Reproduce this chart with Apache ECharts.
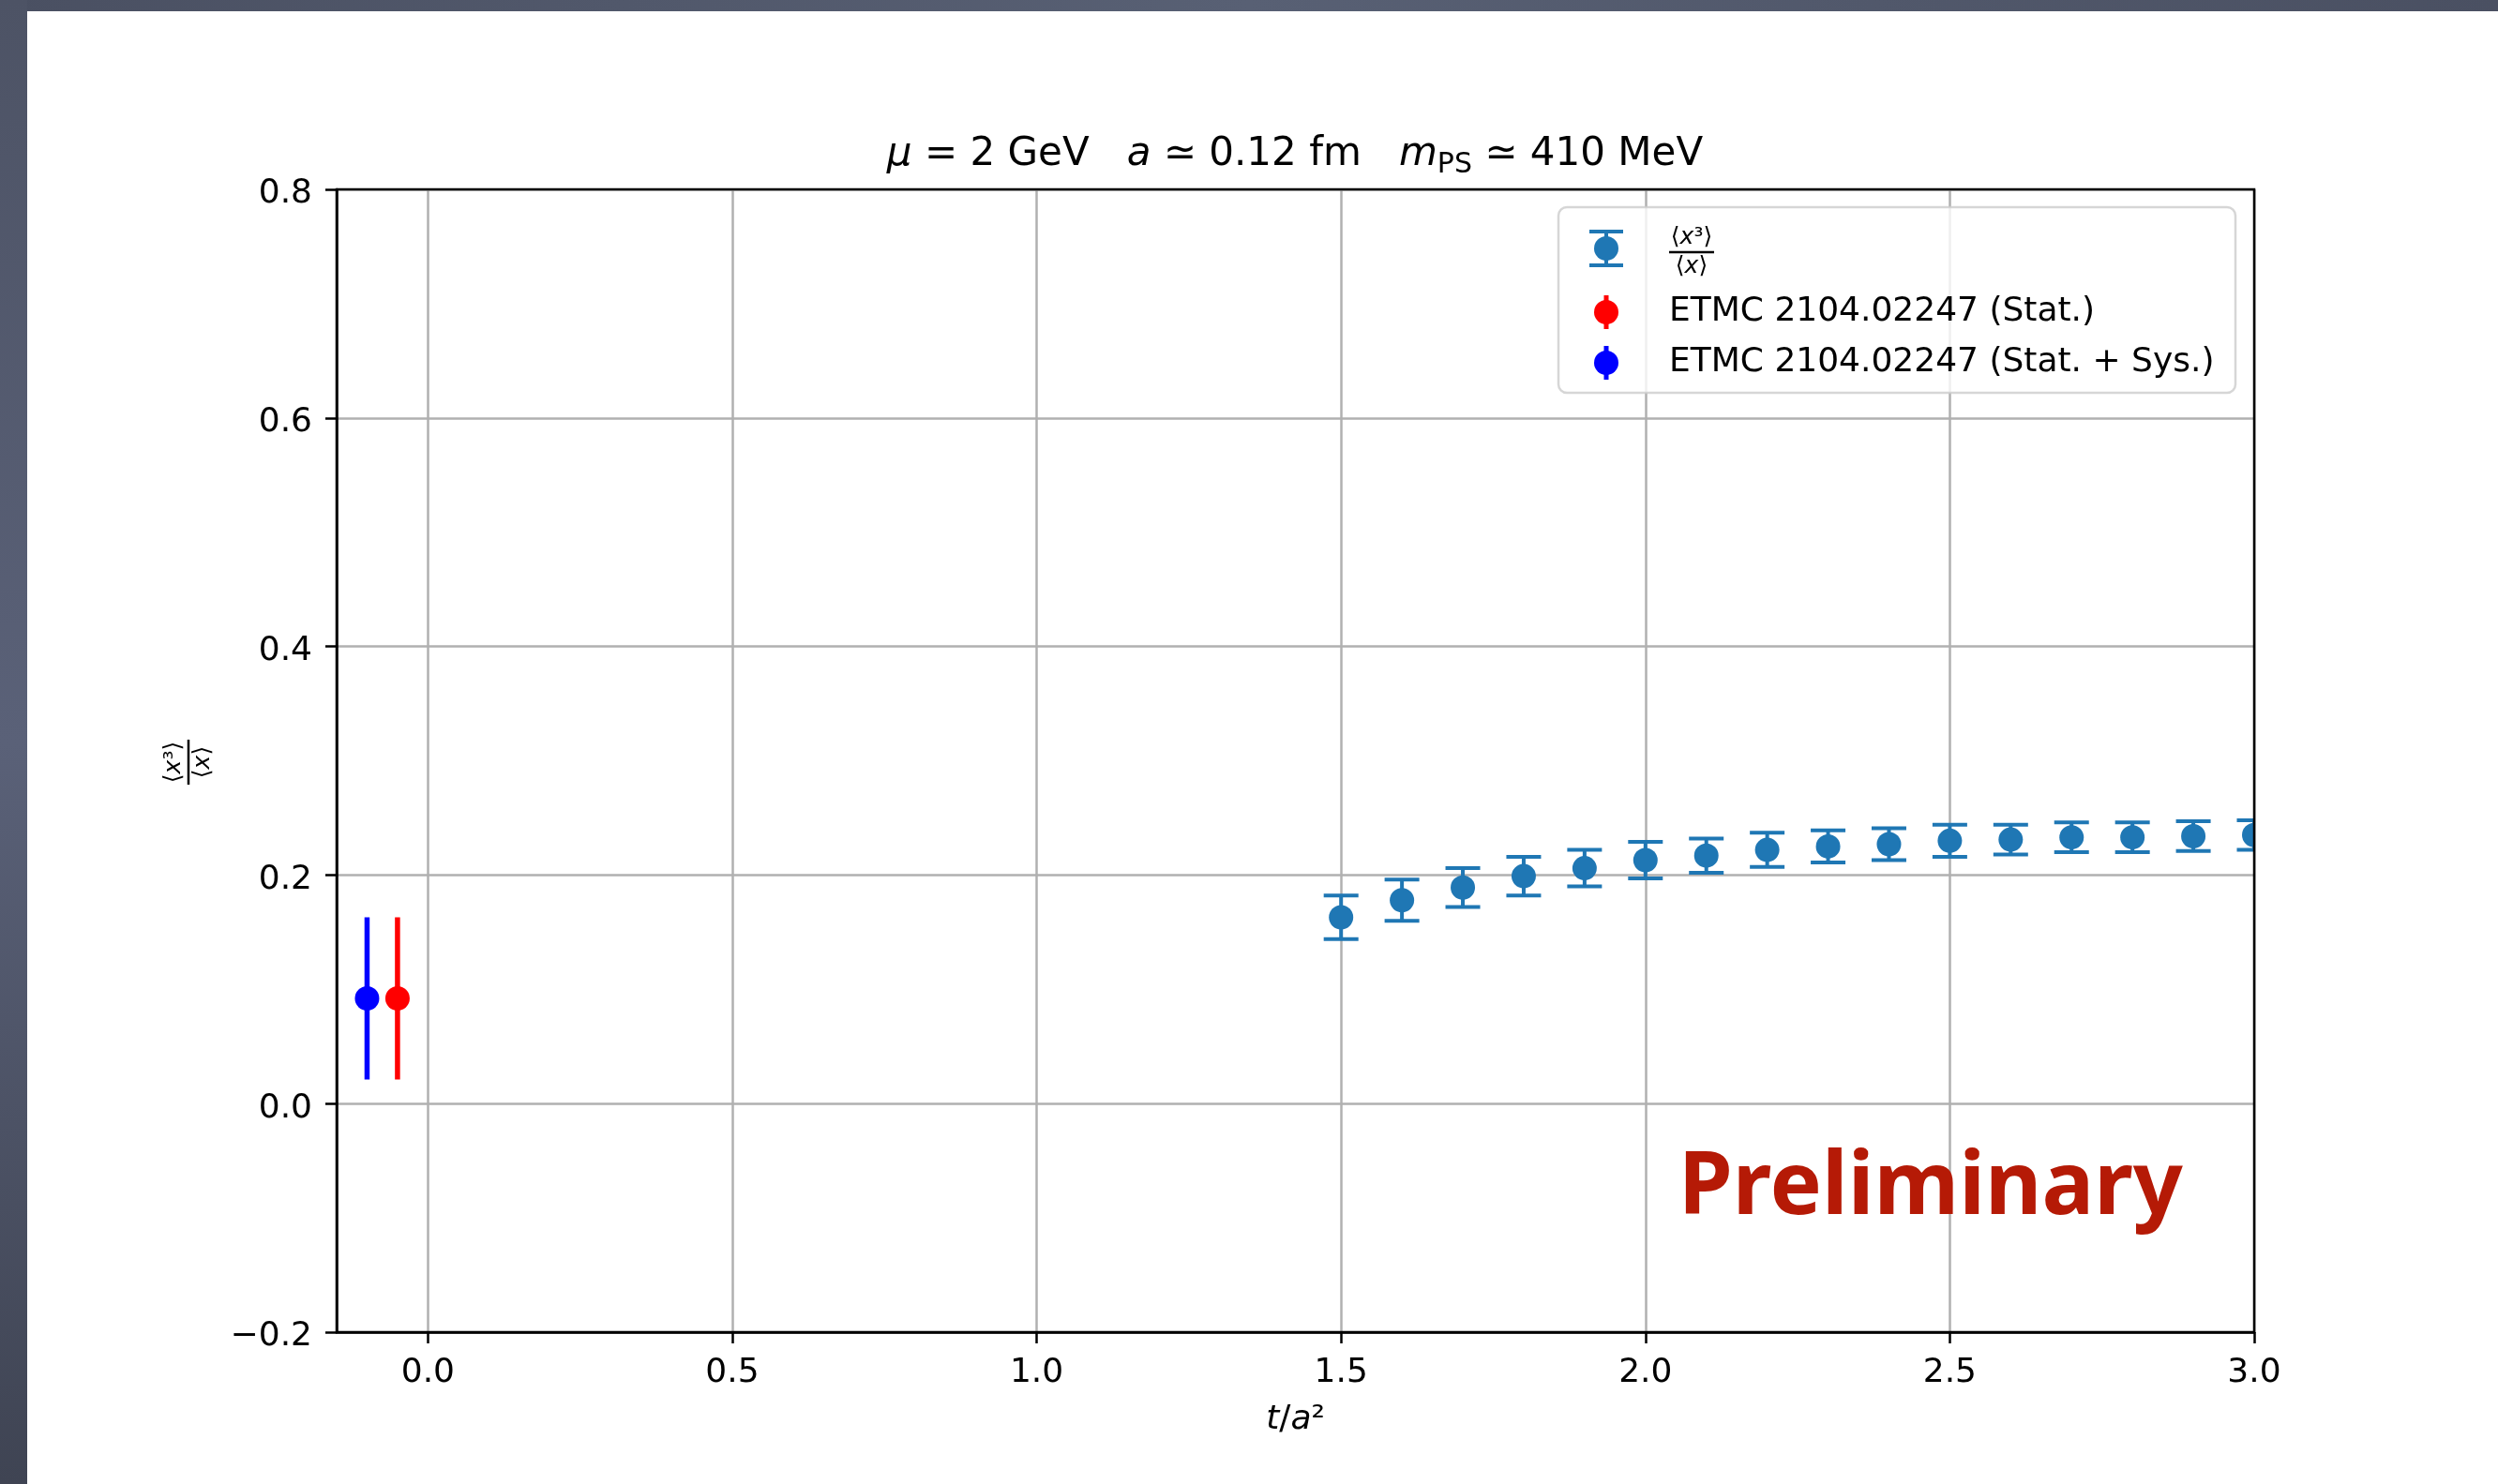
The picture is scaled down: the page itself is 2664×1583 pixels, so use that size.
<!DOCTYPE html>
<html>
<head>
<meta charset="utf-8">
<script src="https://cdn.jsdelivr.net/npm/echarts@6/dist/echarts.min.js"></script>
<style>html,body{margin:0;padding:0;background:#fff;}#c{width:2664px;height:1583px;}</style>
</head>
<body>
<div id="c"></div>
<script>
// ---- data ----
const tValues = [1.5, 1.6, 1.7, 1.8, 1.9, 2.0, 2.1, 2.2, 2.3, 2.4, 2.5, 2.6, 2.7, 2.8, 2.9, 3.0];
const ratioValues = [0.163, 0.178, 0.189, 0.199, 0.206, 0.213, 0.217, 0.222, 0.225, 0.227, 0.230, 0.231, 0.233, 0.233, 0.234, 0.235];
const ratioErrors = [0.019, 0.018, 0.017, 0.017, 0.016, 0.016, 0.015, 0.015, 0.014, 0.014, 0.014, 0.013, 0.013, 0.013, 0.013, 0.013];
const etmcStatPoint = [-0.05, 0.092, 0.071];
const etmcSysPoint = [-0.10, 0.092, 0.071];
const xTickValues = [0, 0.5, 1.0, 1.5, 2.0, 2.5, 3.0];
const legendLabels = ['ETMC 2104.02247 (Stat.)', 'ETMC 2104.02247 (Stat. + Sys.)'];
const titleText = '{i|μ}{n| = 2 GeV   }{i|a}{n| ≃ 0.12 fm   }{i|m}{s|PS}{n| ≃ 410 MeV}';
const watermark = 'Preliminary';

const FONT = 'DejaVu Sans';
const C_DATA = '#1f77b4', C_STAT = '#ff0000', C_SYS = '#0000ff';

function errRender(o) {
  return function (params, api) {
    const x = api.value(0), y = api.value(1), e = api.value(2);
    const p = api.coord([x, y]);
    const t = api.coord([x, y + e]);
    const b = api.coord([x, y - e]);
    const ch = [{type: 'line', shape: {x1: p[0], y1: t[1], x2: p[0], y2: b[1]}, style: {stroke: o.color, lineWidth: o.lw}}];
    if (o.cap) {
      ch.push({type: 'line', shape: {x1: p[0] - o.cap / 2, y1: t[1], x2: p[0] + o.cap / 2, y2: t[1]}, style: {stroke: o.color, lineWidth: o.capLw}});
      ch.push({type: 'line', shape: {x1: p[0] - o.cap / 2, y1: b[1], x2: p[0] + o.cap / 2, y2: b[1]}, style: {stroke: o.color, lineWidth: o.capLw}});
    }
    ch.push({type: 'circle', shape: {cx: p[0], cy: p[1], r: o.r}, style: {fill: o.color}});
    return {type: 'group', children: ch};
  };
}

function fraction(x, y, rot, z) {
  const rich = {
    r: {fontFamily: FONT, fontSize: 25, fill: '#000'},
    i: {fontFamily: FONT, fontSize: 25, fontStyle: 'italic', fill: '#000'}
  };
  return {
    type: 'group', x: x, y: y, rotation: rot, z: z,
    children: [
      {type: 'text', z: z, style: {text: '{r|⟨}{i|x}{r|³⟩}', x: 0, y: -16, align: 'center', verticalAlign: 'middle', textAlign: 'center', textVerticalAlign: 'middle', rich: rich}},
      {type: 'line', z: z, shape: {x1: -24, y1: 0, x2: 24, y2: 0}, style: {stroke: '#000', lineWidth: 2.5}},
      {type: 'text', z: z, style: {text: '{r|⟨}{i|x}{r|⟩}', x: 0, y: 15, align: 'center', verticalAlign: 'middle', textAlign: 'center', textVerticalAlign: 'middle', rich: rich}}
    ]
  };
}

const chart = echarts.init(document.getElementById('c'));

const legendX = 1662, legendY = 221, legendW = 722, legendH = 198;
const rowY = [265, 333, 387];
const iconX = 1713, textX = 1780;

const option = {
  backgroundColor: '#ffffff',
  animation: false,
  grid: {left: 359, right: 260, top: 202, bottom: 162, containLabel: false, outerBoundsMode: 'none', show: false},
  xAxis: {
    type: 'value', min: -0.15, max: 3.0,
    axisLine: {show: true, onZero: false, lineStyle: {color: '#000', width: 2.5}},
    axisTick: {show: true, customValues: xTickValues, length: 12, inside: false, lineStyle: {color: '#000', width: 2.5}},
    axisLabel: {customValues: xTickValues, formatter: v => v.toFixed(1), fontSize: 36, fontFamily: FONT, color: '#000', margin: 26},
    splitLine: {show: true, lineStyle: {color: '#b0b0b0', width: 2.5}},
    name: '{i|t}{n|/}{i|a}{n|²}', nameLocation: 'middle', nameGap: 76,
    nameTextStyle: {fontSize: 36, fontFamily: FONT, color: '#000',
      rich: {i: {fontSize: 36, fontFamily: FONT, fontStyle: 'italic', color: '#000'}, n: {fontSize: 36, fontFamily: FONT, color: '#000'}}}
  },
  yAxis: {
    type: 'value', min: -0.2, max: 0.8, interval: 0.2,
    axisLine: {show: true, onZero: false, lineStyle: {color: '#000', width: 2.5}},
    axisTick: {show: true, length: 12, inside: false, lineStyle: {color: '#000', width: 2.5}},
    axisLabel: {showMinLabel: true, showMaxLabel: true,
      formatter: v => '{v|' + (Math.abs(v) < 1e-9 ? '0.0' : (v < 0 ? '−' : '') + Math.abs(v).toFixed(1)) + '}',
      rich: {v: {fontSize: 36, fontFamily: FONT, color: '#000', padding: [10, 0, 0, 0]}},
      fontSize: 36, fontFamily: FONT, color: '#000', margin: 26},
    splitLine: {show: true, lineStyle: {color: '#b0b0b0', width: 2.5}}
  },
  series: [
    {
      type: 'custom', name: '<x3>/<x>', clip: true, z: 3,
      dimensions: ['t', 'v', 'err'], encode: {x: 0, y: 1},
      data: tValues.map((t, i) => [t, ratioValues[i], ratioErrors[i]]),
      renderItem: errRender({color: C_DATA, lw: 4, cap: 37, capLw: 4, r: 13})
    },
    {
      type: 'custom', name: legendLabels[0], clip: true, z: 3,
      dimensions: ['t', 'v', 'err'], encode: {x: 0, y: 1},
      data: [etmcStatPoint],
      renderItem: errRender({color: C_STAT, lw: 5.5, cap: 0, r: 13})
    },
    {
      type: 'custom', name: legendLabels[1], clip: true, z: 3,
      dimensions: ['t', 'v', 'err'], encode: {x: 0, y: 1},
      data: [etmcSysPoint],
      renderItem: errRender({color: C_SYS, lw: 5.5, cap: 0, r: 13})
    }
  ],
  graphic: [
    // slide background border
    {type: 'rect', z: 100, shape: {x: 0, y: 0, width: 2664, height: 12},
      style: {fill: new echarts.graphic.LinearGradient(0, 0, 1, 0, [{offset: 0, color: '#4a5062'}, {offset: 0.5, color: '#586074'}, {offset: 1, color: '#4a5062'}])}},
    {type: 'rect', z: 100, shape: {x: 0, y: 0, width: 29, height: 1583},
      style: {fill: new echarts.graphic.LinearGradient(0, 0, 0, 1, [{offset: 0, color: '#4d5365'}, {offset: 0.5, color: '#5a6178'}, {offset: 1, color: '#3f4453'}])}},
    // axes frame
    {type: 'rect', z: 10, silent: true, shape: {x: 359, y: 202, width: 2045, height: 1219},
      style: {fill: 'none', stroke: '#000', lineWidth: 2.5}},
    // title
    {type: 'text', z: 10, style: {text: titleText, x: 1381, y: 165, align: 'center', verticalAlign: 'middle', textAlign: 'center', textVerticalAlign: 'middle',
      rich: {
        n: {fontFamily: FONT, fontSize: 42, lineHeight: 52, fill: '#000'},
        i: {fontFamily: FONT, fontSize: 42, lineHeight: 52, fontStyle: 'italic', fill: '#000'},
        s: {fontFamily: FONT, fontSize: 30, lineHeight: 27, verticalAlign: 'bottom', fill: '#000'}
      }}},
    // y axis label
    fraction(201, 813, Math.PI / 2, 10),
    // watermark
    {type: 'text', z: 6, style: {text: watermark, x: 1790, y: 1268, align: 'left', verticalAlign: 'middle', textAlign: 'left', textVerticalAlign: 'middle',
      font: 'bold 93px "Noto Sans"', fill: '#b51a06'}},
    // legend
    {type: 'rect', z: 20, shape: {x: legendX, y: legendY, width: legendW, height: legendH, r: 9},
      style: {fill: 'rgba(255,255,255,0.8)', stroke: 'rgba(204,204,204,0.8)', lineWidth: 2.5}},
    {type: 'line', z: 21, shape: {x1: iconX, y1: rowY[0] - 18, x2: iconX, y2: rowY[0] + 18}, style: {stroke: C_DATA, lineWidth: 4}},
    {type: 'line', z: 21, shape: {x1: iconX - 18, y1: rowY[0] - 18, x2: iconX + 18, y2: rowY[0] - 18}, style: {stroke: C_DATA, lineWidth: 4}},
    {type: 'line', z: 21, shape: {x1: iconX - 18, y1: rowY[0] + 18, x2: iconX + 18, y2: rowY[0] + 18}, style: {stroke: C_DATA, lineWidth: 4}},
    {type: 'circle', z: 21, shape: {cx: iconX, cy: rowY[0], r: 13}, style: {fill: C_DATA}},
    fraction(textX + 24, rowY[0] + 4, 0, 21),
    {type: 'line', z: 21, shape: {x1: iconX, y1: rowY[1] - 18, x2: iconX, y2: rowY[1] + 18}, style: {stroke: C_STAT, lineWidth: 5}},
    {type: 'circle', z: 21, shape: {cx: iconX, cy: rowY[1], r: 13}, style: {fill: C_STAT}},
    {type: 'text', z: 21, style: {text: legendLabels[0], x: textX, y: rowY[1], align: 'left', verticalAlign: 'middle', textAlign: 'left', textVerticalAlign: 'middle', font: '36px "DejaVu Sans"', fill: '#000'}},
    {type: 'line', z: 21, shape: {x1: iconX, y1: rowY[2] - 18, x2: iconX, y2: rowY[2] + 18}, style: {stroke: C_SYS, lineWidth: 5}},
    {type: 'circle', z: 21, shape: {cx: iconX, cy: rowY[2], r: 13}, style: {fill: C_SYS}},
    {type: 'text', z: 21, style: {text: legendLabels[1], x: textX, y: rowY[2], align: 'left', verticalAlign: 'middle', textAlign: 'left', textVerticalAlign: 'middle', font: '36px "DejaVu Sans"', fill: '#000'}}
  ]
};
chart.setOption(option);
</script>
</body>
</html>
